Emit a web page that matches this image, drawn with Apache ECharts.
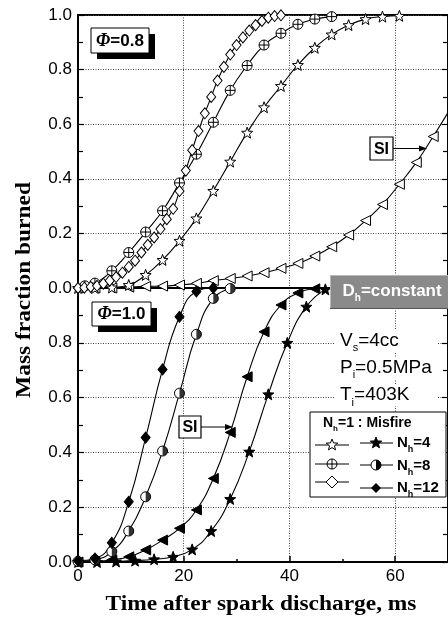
<!DOCTYPE html>
<html><head><meta charset="utf-8">
<script src="https://cdn.jsdelivr.net/npm/echarts@6/dist/echarts.min.js"></script>
<style>html,body{margin:0;padding:0;background:#fff}#c{width:448px;height:624px}</style>
</head><body><div id="c"></div>
<script>
// ---------- DATA ----------
// x tick values
const xTicks = [0, 20, 40, 60];
// Upper panel: phi = 0.8
const t08_n4 = [0,3.2,6.4,9.6,12.8,16,19.2,22.4,25.6,28.8,32,35.2,38.4,41.6,44.8,48,51.2,54.4,57.6,60.8];
const v08_n4 = [0,0,0.002,0.011,0.048,0.103,0.173,0.255,0.356,0.463,0.569,0.662,0.74,0.817,0.88,0.929,0.963,0.985,0.994,0.997];
const t08_n8 = [1.3,3.2,6.4,9.6,12.8,16,19.2,22.4,25.6,28.8,32,35.2,38.4,41.6,44.8,48];
const v08_n8 = [0.008,0.018,0.063,0.13,0.205,0.283,0.385,0.49,0.607,0.724,0.815,0.89,0.933,0.966,0.985,0.994];
const t08_n12 = [0,1.2,2.4,3.6,4.8,6,7.2,8.4,9.6,10.8,12,13.2,14.4,15.6,16.8,18,19.2,20.4,21.6,22.8,24,25.2,26.4,27.6,28.8,30,31.2,32.4,33.6,34.8,36,37.2,38.4];
const v08_n12 = [0,0.001,0.004,0.008,0.016,0.027,0.04,0.056,0.077,0.1,0.13,0.158,0.185,0.216,0.252,0.29,0.355,0.43,0.505,0.575,0.64,0.7,0.76,0.81,0.855,0.89,0.918,0.943,0.963,0.978,0.99,0.996,0.999];
const t08_si = [0,3.2,6.4,9.6,12.8,16,19.2,22.4,25.6,28.8,32,35.2,38.4,41.6,44.8,48,51.2,54.4,57.6,60.8,64,67.2,70.4];
const v08_si = [0,0,0,0.003,0.006,0.007,0.011,0.017,0.027,0.035,0.044,0.056,0.072,0.09,0.117,0.151,0.194,0.247,0.306,0.38,0.46,0.555,0.655];
// Lower panel: phi = 1.0
const t10_n4 = [0,3.6,7.2,10.8,14.4,18,21.6,25.2,28.8,32.4,36,39.6,43.2,46.8];
const v10_n4 = [0,0,0.002,0.005,0.01,0.019,0.046,0.113,0.23,0.403,0.612,0.8,0.932,0.995];
const t10_n8 = [0,3.2,6.4,9.6,12.8,16,19.2,22.4,25.6,28.8];
const v10_n8 = [0.002,0.008,0.038,0.113,0.238,0.405,0.616,0.831,0.962,0.998];
const t10_n12 = [0,3.2,6.4,9.6,12.8,16,19.2,22.4,25.6];
const v10_n12 = [0.005,0.013,0.07,0.22,0.454,0.703,0.895,0.987,1.0];
const t10_si = [0,3.2,6.4,9.6,12.8,16,19.2,22.4,25.6,28.8,32,35.2,38.4,41.6,44.8];
const v10_si = [0,0.002,0.008,0.019,0.044,0.08,0.123,0.19,0.305,0.473,0.676,0.84,0.938,0.982,0.997];

// ---------- helpers ----------
const pairs = (t, v) => t.map((x, i) => [x, v[i]]);
function starPts(cx, cy, R, r) {
  const p = [];
  for (let k = 0; k < 10; k++) {
    const a = -Math.PI / 2 + k * Math.PI / 5, rr = k % 2 ? r : R;
    p.push([cx + rr * Math.cos(a), cy + rr * Math.sin(a)]);
  }
  return p;
}
const STAR = 'path://M' + starPts(10, 10, 10, 4.2).map(p => p[0].toFixed(2) + ',' + p[1].toFixed(2)).join(' L') + ' Z';
const LTRI = 'path://M0,10 L20,0 L20,20 Z';
const OPLUS = 'path://M0,10 A10,10 0 1,1 20,10 A10,10 0 1,1 0,10 Z M10,0 L10,20 M0,10 L20,10';
const HALF = 'path://M10,0 A10,10 0 0,1 10,20 Z';

function lineSeries(name, t, v, g, symbol, size, fill, z) {
  return {
    name, type: 'line', xAxisIndex: g, yAxisIndex: g, data: pairs(t, v),
    smooth: 0.5, symbol, symbolSize: size, showSymbol: true, showAllSymbol: true,
    itemStyle: { color: fill, borderColor: '#000', borderWidth: 1 },
    lineStyle: { color: '#000', width: 1.1 }, z: z || 3, animation: false
  };
}

const mctx = document.createElement('canvas').getContext('2d');
function tw(s, font) { mctx.font = font; return mctx.measureText(s).width; }
function subLine(x, yMid, parts, size, weight, fill, z) {
  const els = []; let cx = x;
  parts.forEach(([s, sub]) => {
    const fs = sub ? Math.round(size * 0.58) : size;
    const font = weight + ' ' + fs + 'px "Liberation Sans", Arial, sans-serif';
    els.push({ type: 'text', x: cx, y: sub ? yMid + size * 0.42 : yMid, z: z || 60,
      style: { text: s, font, fill, align: 'left', verticalAlign: 'middle' } });
    cx += tw(s, font);
  });
  return els;
}

const G = [];
// Phi boxes
function phiBox(x, y, w, h, label) {
  G.push({ type: 'rect', z: 50, shape: { x: x + 6, y: y + 6, width: w, height: h }, style: { fill: '#000' } });
  G.push({ type: 'rect', z: 51, shape: { x, y, width: w, height: h }, style: { fill: '#fff', stroke: '#000', lineWidth: 1 } });
  G.push({ type: 'text', z: 52, x: x + w / 2, y: y + h / 2 + 0.5, style: {
    text: '{p|Φ}{n|=' + label + '}', align: 'center', verticalAlign: 'middle',
    rich: { p: { fontFamily: '"Liberation Serif", serif', fontStyle: 'italic', fontWeight: 'bold', fontSize: 18, fill: '#000' },
            n: { fontFamily: '"Liberation Sans", Arial', fontWeight: 'bold', fontSize: 17, fill: '#000' } } } });
}
phiBox(91, 28, 58, 25, '0.8');
phiBox(92, 302, 59, 24, '1.0');

// SI boxes with arrows
function siBox(x, y, w, h, x2) {
  G.push({ type: 'rect', z: 50, shape: { x, y, width: w, height: h }, style: { fill: '#fff', stroke: '#000', lineWidth: 1.2 } });
  G.push({ type: 'text', z: 51, x: x + w / 2, y: y + h / 2 + 1, style: { text: 'SI', font: 'bold 16px "Liberation Sans", Arial', fill: '#000', align: 'center', verticalAlign: 'middle' } });
  const ay = y + h / 2;
  G.push({ type: 'line', z: 50, shape: { x1: x + w, y1: ay, x2: x2 - 6, y2: ay }, style: { stroke: '#000', lineWidth: 1 } });
  G.push({ type: 'polygon', z: 50, shape: { points: [[x2, ay], [x2 - 8, ay - 3], [x2 - 8, ay + 3]] }, style: { fill: '#000' } });
}
siBox(370, 137, 23, 23, 427);
siBox(179, 416, 22, 22, 233);

// D_h = constant box
G.push({ type: 'rect', z: 50, shape: { x: 330, y: 275, width: 130, height: 34 }, style: { fill: '#8a8a8a' } });
G.push({ type: 'line', z: 51, shape: { x1: 330, y1: 275.5, x2: 460, y2: 275.5 }, style: { stroke: '#b8b8b8', lineWidth: 1 } });
G.push({ type: 'line', z: 51, shape: { x1: 330.5, y1: 275, x2: 330.5, y2: 309 }, style: { stroke: '#b8b8b8', lineWidth: 1 } });
G.push({ type: 'line', z: 51, shape: { x1: 330, y1: 308.5, x2: 460, y2: 308.5 }, style: { stroke: '#555', lineWidth: 1 } });
G.push(...subLine(342.5, 291, [['D', false], ['h', true], ['=constant', false]], 17, 'bold', '#fff', 52));

// condition texts with white background
[[330, 340.4, 's', '=4cc', 'V'], [357, 367.4, 'i', '=0.5MPa', 'P'], [384, 395, 'i', '=403K', 'T']].forEach(r => {
  G.push({ type: 'rect', z: 49, shape: { x: 334, y: r[0], width: 104, height: 22 }, style: { fill: '#fff' } });
  G.push(...subLine(340, r[1], [[r[4], false], [r[2], true], [r[3], false]], 19, 'normal', '#000', 52));
});

// Legend
G.push({ type: 'rect', z: 50, shape: { x: 310, y: 412, width: 136, height: 85 }, style: { fill: '#fff', stroke: '#000', lineWidth: 1 } });
G.push(...subLine(323, 423, [['N', false], ['h', true], ['=1 : Misfire', false]], 14, 'bold', '#000', 52));
function lgLine(x1, x2, y, z) { G.push({ type: 'line', z: z || 51, shape: { x1, y1: y, x2, y2: y }, style: { stroke: '#000', lineWidth: 1.1 } }); }
// row 1
lgLine(315, 349, 445);
G.push({ type: 'polygon', z: 52, shape: { points: starPts(332, 445, 6, 2.6) }, style: { fill: '#fff', stroke: '#000', lineWidth: 1 } });
lgLine(360, 393, 443);
G.push({ type: 'polygon', z: 52, shape: { points: starPts(376, 443, 6, 2.6) }, style: { fill: '#000', stroke: '#000', lineWidth: 1 } });
G.push(...subLine(397, 443, [['N', false], ['h', true], ['=4', false]], 15, 'bold', '#000', 52));
// row 2
lgLine(315, 349, 464);
G.push({ type: 'circle', z: 52, shape: { cx: 332, cy: 464, r: 5 }, style: { fill: '#fff', stroke: '#000', lineWidth: 1 } });
G.push({ type: 'line', z: 53, shape: { x1: 332, y1: 459, x2: 332, y2: 469 }, style: { stroke: '#000', lineWidth: 1 } });
lgLine(327, 337, 464, 53);
lgLine(360, 393, 465);
G.push({ type: 'circle', z: 52, shape: { cx: 376, cy: 465, r: 5 }, style: { fill: '#fff', stroke: '#000', lineWidth: 1 } });
G.push({ type: 'sector', z: 53, shape: { cx: 376, cy: 465, r0: 0, r: 5, startAngle: -Math.PI / 2, endAngle: Math.PI / 2, clockwise: true }, style: { fill: '#000' } });
G.push(...subLine(397, 466, [['N', false], ['h', true], ['=8', false]], 15, 'bold', '#000', 52));
// row 3
lgLine(315, 349, 482);
G.push({ type: 'polygon', z: 52, shape: { points: [[332, 476], [338, 482], [332, 488], [326, 482]] }, style: { fill: '#fff', stroke: '#000', lineWidth: 1 } });
lgLine(360, 393, 488);
G.push({ type: 'polygon', z: 52, shape: { points: [[376, 483], [381, 488], [376, 493], [371, 488]] }, style: { fill: '#000' } });
G.push(...subLine(397, 488, [['N', false], ['h', true], ['=12', false]], 15, 'bold', '#000', 52));

// axis titles
G.push({ type: 'text', z: 60, x: 25, y: 290, rotation: Math.PI / 2, scaleX: 1.17, style: { text: 'Mass fraction burned', font: 'bold 20px "Liberation Serif", "Times New Roman", serif', fill: '#000', align: 'center', verticalAlign: 'middle' } });
G.push({ type: 'text', z: 60, x: 261, y: 605, scaleX: 1.17, style: { text: 'Time after spark discharge, ms', font: 'bold 20px "Liberation Serif", "Times New Roman", serif', fill: '#000', align: 'center', verticalAlign: 'middle' } });

// ---------- axes ----------
const gridLine = { show: true, lineStyle: { color: '#444', type: [1, 1.5], width: 1 } };
const lab = { color: '#000', fontSize: 17, fontFamily: '"Liberation Sans", Arial, sans-serif' };
function xAx(g, showLabel) {
  return { type: 'value', gridIndex: g, min: 0, max: 70, interval: 20,
    axisLine: { show: true, onZero: false, lineStyle: { color: '#000', width: 2 } },
    axisTick: { show: showLabel, inside: true, length: 6, lineStyle: { color: '#000', width: 1.5 } },
    minorTick: { show: showLabel, splitNumber: 2, length: 3, lineStyle: { color: '#000', width: 1.5 } },
    axisLabel: Object.assign({ show: showLabel, margin: 6, showMaxLabel: false, formatter: v => xTicks.includes(v) ? String(v) : '' }, lab),
    splitLine: gridLine };
}
function yAx(g, showMax) {
  return { type: 'value', gridIndex: g, min: 0, max: 1, interval: 0.2,
    axisLine: { show: true, onZero: false, lineStyle: { color: '#000', width: 2 } },
    axisTick: { show: true, inside: true, length: 6, lineStyle: { color: '#000', width: 1.2 } },
    minorTick: { show: true, splitNumber: 2, length: 5, lineStyle: { color: '#000', width: 1.2 } },
    axisLabel: Object.assign({ margin: 6, showMaxLabel: showMax, formatter: v => v.toFixed(1) }, lab),
    splitLine: gridLine };
}
function yRight(g) {
  return { type: 'value', gridIndex: g, min: 0, max: 1, interval: 0.2, position: 'right',
    axisLine: { show: true, onZero: false, lineStyle: { color: '#000', width: 2 } },
    axisTick: { show: true, inside: true, length: 6, lineStyle: { color: '#000', width: 1.2 } },
    minorTick: { show: true, splitNumber: 2, length: 5, lineStyle: { color: '#000', width: 1.2 } },
    axisLabel: { show: false }, splitLine: { show: false } };
}

const series = [
  lineSeries('SI φ0.8', t08_si, v08_si, 0, LTRI, 10, '#fff'),
  lineSeries('Nh=4 φ0.8', t08_n4, v08_n4, 0, STAR, 11, '#fff'),
  lineSeries('Nh=8 φ0.8', t08_n8, v08_n8, 0, OPLUS, 10, '#fff'),
  lineSeries('Nh=12 φ0.8', t08_n12, v08_n12, 0, 'diamond', [9, 11], '#fff'),
  lineSeries('SI φ1.0', t10_si, v10_si, 1, LTRI, 10, '#000'),
  lineSeries('Nh=4 φ1.0', t10_n4, v10_n4, 1, STAR, 11, '#000'),
  lineSeries('Nh=8 φ1.0', t10_n8, v10_n8, 1, 'circle', 10, '#fff'),
  { name: 'Nh=8 φ1.0 half', type: 'scatter', xAxisIndex: 1, yAxisIndex: 1, data: pairs(t10_n8, v10_n8),
    symbol: HALF, symbolSize: 10, symbolKeepAspect: true, symbolOffset: [2.5, 0],
    itemStyle: { color: '#000' }, z: 4, animation: false, silent: true },
  lineSeries('Nh=12 φ1.0', t10_n12, v10_n12, 1, 'diamond', [9, 11], '#000'),
];

const chart = echarts.init(document.getElementById('c'), null, { renderer: 'canvas' });
chart.setOption({
  backgroundColor: '#fff',
  animation: false,
  grid: [
    { left: 78, right: -3, top: 15, height: 273, show: true, borderColor: '#000', borderWidth: 2, backgroundColor: 'transparent' },
    { left: 78, right: -3, top: 288, height: 274, show: true, borderColor: '#000', borderWidth: 2, backgroundColor: 'transparent' }
  ],
  xAxis: [xAx(0, false), xAx(1, true)],
  yAxis: [yAx(0, true), yAx(1, false), yRight(0), yRight(1)],
  series,
  graphic: { elements: G }
});
</script></body></html>
